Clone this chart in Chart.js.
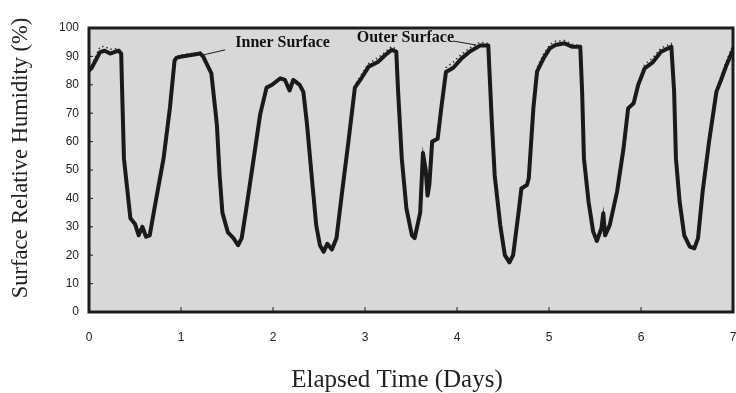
<!DOCTYPE html>
<html>
<head>
<meta charset="utf-8">
<script src="https://cdn.jsdelivr.net/npm/chart.js@4/dist/chart.umd.min.js"></script>
<style>
  body { margin: 0; background: #fff; }
  #wrap { width: 736px; height: 393px; }
</style>
</head>
<body>
<div id="wrap"><canvas id="myChart" width="736" height="393"></canvas></div>
<script>
// elapsed time in days
var days = [0, 0.03, 0.12, 0.17, 0.23, 0.32, 0.35, 0.36, 0.38, 0.41, 0.45, 0.5, 0.54, 0.58, 0.62, 0.66, 0.72, 0.81, 0.88, 0.93,
	0.95, 1.01, 1.21, 1.24, 1.33, 1.39, 1.42, 1.45, 1.51, 1.57, 1.62, 1.66, 1.71, 1.79, 1.86, 1.93, 1.99, 2.08, 2.13, 2.18,
	2.22, 2.29, 2.33, 2.37, 2.42, 2.47, 2.51, 2.55, 2.59, 2.64, 2.69, 2.75, 2.82, 2.89, 2.96, 3.04, 3.14, 3.22, 3.29, 3.34,
	3.36, 3.40, 3.45, 3.51, 3.54, 3.60, 3.63, 3.66, 3.68, 3.70, 3.73, 3.79, 3.83, 3.88, 3.96, 4.05, 4.14, 4.25, 4.34, 4.38,
	4.41, 4.47, 4.52, 4.57, 4.61, 4.67, 4.70, 4.76, 4.78, 4.83, 4.87, 4.94, 5.01, 5.07, 5.17, 5.25, 5.34, 5.36, 5.38, 5.43,
	5.48, 5.52, 5.57, 5.59, 5.61, 5.66, 5.74, 5.81, 5.86, 5.92, 5.97, 6.04, 6.13, 6.22, 6.33, 6.36, 6.38, 6.42, 6.47, 6.53,
	6.58, 6.62, 6.67, 6.74, 6.82, 6.87, 6.93, 7.0];

// inner surface RH (%)
var innerRh = [85, 86, 91.5, 92, 91, 92, 91, 78, 54, 45, 33, 31, 27, 30, 26.5, 27, 38, 54, 72, 88.5,
	89.5, 90, 91, 90, 84, 66, 48, 35, 28, 26, 23.5, 26, 36.5, 54, 69.5, 79, 80, 82.3, 81.7, 78,
	81.7, 80, 77.5, 66, 48, 30.5, 23.5, 21.2, 24, 22, 26, 42, 60, 79, 82.3, 86.4, 88, 90.5, 92.3, 91.7,
	77.6, 54, 36.5, 27, 26, 35, 56, 50, 41, 45, 60, 61, 72, 84.5, 86, 89.3, 91.7, 93.8, 93.8, 66,
	48, 30.6, 20, 17.5, 20, 35.3, 43.5, 44.7, 47, 71.7, 84.6, 89.3, 92.9, 94, 94.6, 93.4, 93.4, 77.6, 54, 38.8,
	28.3, 25, 29.5, 34.8, 27, 30.6, 42.4, 57.6, 71.7, 73.5, 80, 85.8, 88, 91.7, 93.4, 77.6, 54, 38.8, 27, 23,
	22.4, 26, 42.4, 60, 77.6, 81.7, 87, 92.3];

// outer surface RH (%), dotted, shows above the inner trace near the peaks
var outerRh = [85.5, 87, 93.4, 93.5, 92.5, 92.8, 92, 78, 54, 45, 33, 31, 27, 30, 26.5, 27, 38, 54, 72, 89,
	90, 90.5, 91.5, 90, 84, 66, 48, 35, 28, 26, 23.5, 26, 36.5, 54, 69.5, 79, 80, 82.3, 81.7, 78,
	81.7, 80, 77.5, 66, 48, 30.5, 23.5, 21.2, 24, 22, 26, 42, 60, 80, 83.5, 87.5, 89.5, 91.5, 93.5, 92.5,
	77.6, 54, 36.5, 27, 26, 35, 56, 50, 41, 45, 60, 61, 72, 86, 88, 90.8, 93, 95, 94.5, 66,
	48, 30.6, 20, 17.5, 20, 35.3, 43.5, 44.7, 47, 71.7, 86, 90.8, 94.2, 95.3, 95.6, 94.3, 93.8, 77.6, 54, 38.8,
	28.3, 25, 29.5, 34.8, 27, 30.6, 42.4, 57.6, 71.7, 73.5, 80, 87.2, 89.5, 93, 94.5, 77.6, 54, 38.8, 27, 23,
	22.4, 26, 42.4, 60, 77.6, 83, 88.5, 94];

var yTicks = [0, 10, 20, 30, 40, 50, 60, 70, 80, 90, 100];
var xTicks = [0, 1, 2, 3, 4, 5, 6, 7];
var xTitle = "Elapsed Time (Days)";
var yTitle = "Surface Relative Humidity (%)";

// curve labels, in data units
var noteText = ["Inner Surface", "Outer Surface"];
var noteAt = [[1.59, 94.7], [2.91, 96.6]];
var leaderFrom = [[1.48, 92.3], [3.96, 95.4]];
var leaderTo = [[1.24, 90.5], [4.21, 94]];

function toPoints(xs, ys){
	var pts = [];
	for (var i = 0; i < xs.length; i++) {
		pts.push({x: xs[i], y: ys[i]});
	}
	return pts;
}

var framePlugin = {
	id: "frame",
	beforeDatasetsDraw: function(chart){
		var ctx = chart.ctx, a = chart.chartArea;
		ctx.save();
		ctx.fillStyle = "#d8d8d8";
		ctx.fillRect(a.left, a.top, a.right - a.left, a.bottom - a.top);
		ctx.restore();
	},
	afterDatasetsDraw: function(chart){
		var ctx = chart.ctx, a = chart.chartArea;
		var xs = chart.scales.x, ys = chart.scales.y;
		ctx.save();
		ctx.strokeStyle = "#1c1c1c";
		ctx.lineWidth = 3;
		ctx.strokeRect(a.left, a.top, a.right - a.left, a.bottom - a.top);

		// small inward ticks
		ctx.lineWidth = 1;
		ctx.beginPath();
		for (var i = 0; i < xTicks.length; i++) {
			var px = xs.getPixelForValue(xTicks[i]);
			ctx.moveTo(px, a.bottom);
			ctx.lineTo(px, a.bottom - 5);
		}
		for (var j = 0; j < yTicks.length; j++) {
			var py = ys.getPixelForValue(yTicks[j]);
			ctx.moveTo(a.left, py);
			ctx.lineTo(a.left + 4, py);
		}
		ctx.stroke();

		// labels with leader lines
		ctx.fillStyle = "#111";
		ctx.font = "bold 16px 'Liberation Serif', serif";
		ctx.textBaseline = "middle";
		ctx.textAlign = "left";
		for (var k = 0; k < noteText.length; k++) {
			ctx.fillText(noteText[k], xs.getPixelForValue(noteAt[k][0]), ys.getPixelForValue(noteAt[k][1]));
			ctx.beginPath();
			ctx.moveTo(xs.getPixelForValue(leaderFrom[k][0]), ys.getPixelForValue(leaderFrom[k][1]));
			ctx.lineTo(xs.getPixelForValue(leaderTo[k][0]), ys.getPixelForValue(leaderTo[k][1]));
			ctx.stroke();
		}

		// axis titles
		ctx.fillStyle = "#222";
		ctx.textAlign = "center";
		ctx.font = "25px 'Liberation Serif', serif";
		ctx.fillText(xTitle, 397, 380);
		ctx.translate(21, 158);
		ctx.rotate(-Math.PI / 2);
		ctx.font = "22.5px 'Liberation Serif', serif";
		ctx.fillText(yTitle, 0, 0);
		ctx.restore();
	}
};

var ctx = document.getElementById("myChart").getContext("2d");
var myChart = new Chart(ctx, {
	type: "line",
	data: {
		datasets: [
			{
				label: "Inner Surface",
				data: toPoints(days, innerRh),
				borderColor: "#1a1a1a",
				borderWidth: 4,
				pointRadius: 0,
				tension: 0,
				borderJoinStyle: "round",
				borderCapStyle: "round"
			},
			{
				label: "Outer Surface",
				data: toPoints(days, outerRh),
				borderColor: "#333",
				borderWidth: 1.5,
				borderDash: [1.5, 3],
				pointRadius: 0,
				tension: 0
			}
		]
	},
	options: {
		responsive: false,
		animation: false,
		layout: { padding: { top: 28, right: 3, left: 0, bottom: 0 } },
		plugins: { legend: { display: false }, tooltip: { enabled: false } },
		scales: {
			x: {
				type: "linear",
				min: 0, max: 7,
				afterFit: function(s){ s.height = 81; s.paddingLeft = 0; s.paddingRight = 0; },
				afterBuildTicks: function(s){ s.ticks = xTicks.map(function(v){ return {value: v}; }); },
				grid: { display: false, drawTicks: false },
				border: { display: false },
				ticks: { padding: 18, color: "#222", font: { family: "'Liberation Sans', Arial", size: 12 } }
			},
			y: {
				min: 0, max: 100,
				afterFit: function(s){ s.width = 89; },
				afterBuildTicks: function(s){ s.ticks = yTicks.map(function(v){ return {value: v}; }); },
				grid: { display: false, drawTicks: false },
				border: { display: false },
				ticks: { padding: 10, color: "#222", font: { family: "'Liberation Sans', Arial", size: 12 } }
			}
		}
	},
	plugins: [framePlugin]
});
</script>
</body>
</html>
